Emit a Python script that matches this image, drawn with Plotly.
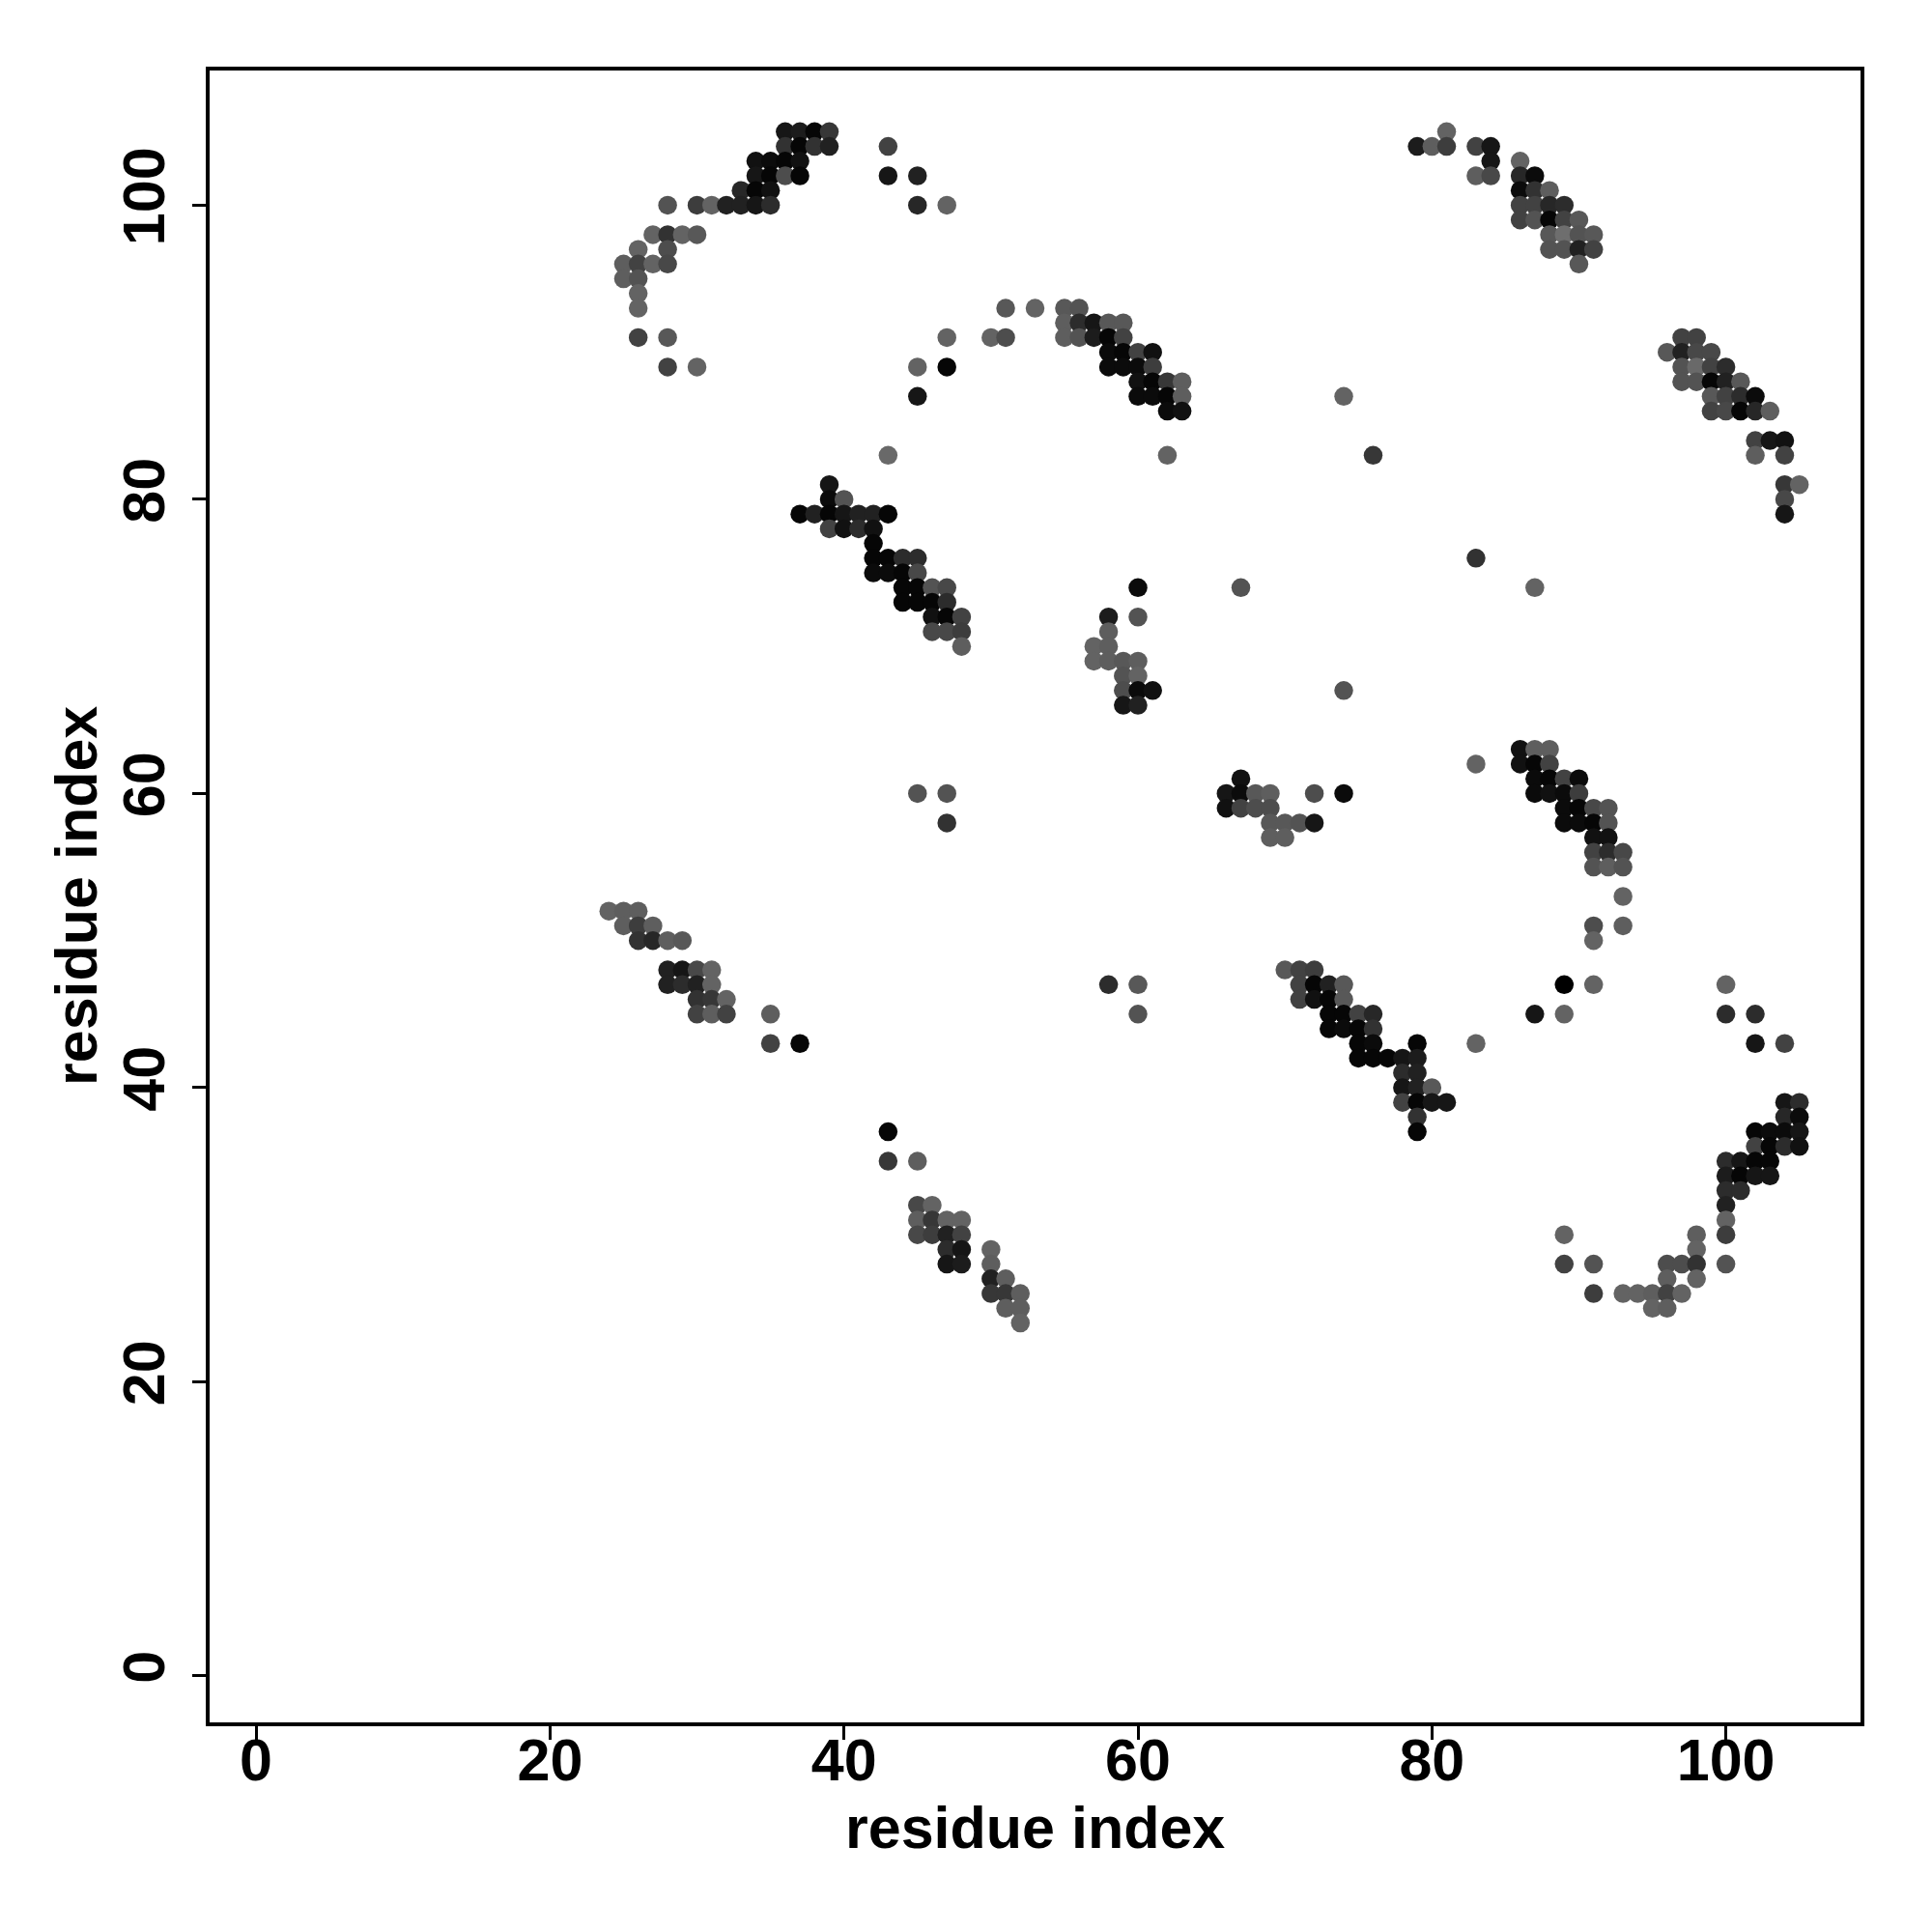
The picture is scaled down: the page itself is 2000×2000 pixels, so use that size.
import plotly.graph_objects as go

# residue i, residue j, shade (0 = black ... 1 = lightest gray)
res_i = [
    36, 37, 38, 39, 36, 37, 38, 39, 43, 34, 35, 36, 37, 34, 35, 36, 37, 43, 45,
    33, 34, 35, 28, 30, 31, 32, 33, 34, 35, 45, 47, 27, 28, 29, 30, 26, 28,
    25, 26, 27, 28, 25, 26, 26, 26, 26, 28, 28, 30, 45, 47, 45, 47, 50, 51,
    51, 53, 55, 56,
    55, 56, 57, 58, 59, 55, 56, 57, 58, 59, 58, 59, 60, 61, 58, 59, 60, 61,
    60, 61, 62, 63, 60, 61, 62, 63, 74, 62, 63,
    81, 79, 80, 81, 83, 84, 84, 86, 83, 84, 86, 87, 86, 87, 88, 86, 87, 88, 89,
    86, 87, 88, 89, 90, 88, 89, 90, 91, 88, 89, 90, 91, 90,
    97, 98, 96, 97, 98, 99, 97, 98, 99, 100, 97, 98, 99, 100, 101,
    99, 100, 101, 102, 99, 100, 101, 102, 103,
    102, 103, 104, 102, 104, 104, 105, 104, 104, 83, 87,
    43, 39, 39, 40, 37, 38, 39, 40, 41, 42, 43, 39, 40, 41, 42, 42,
    42, 43, 44, 45, 42, 43, 44, 45, 44, 45, 46, 47, 44, 45, 46, 47,
    46, 47, 48, 46, 47, 48, 48,
    62, 76, 60, 67, 58, 60, 58, 57, 58, 57, 58, 59, 60, 59, 60, 59, 60, 61, 74,
    59, 60,
    45, 47, 47, 24, 25, 26, 25, 26, 27, 26, 27, 28, 29, 28, 29, 30, 31,
    28, 29, 30, 31, 30, 31, 32, 30, 31, 32, 35,
    35, 37, 43, 43, 45, 45, 46, 45, 46, 47, 48, 45, 46, 47, 48, 47, 48, 47, 48,
    50, 50, 50, 51, 50, 51, 52, 51, 52, 52,
    67, 66, 67, 68, 69, 72, 74, 66, 67, 68, 69, 69, 70, 71, 72, 69, 70,
    70, 71, 72, 58, 60, 71, 72, 73, 74, 71, 72, 73, 74,
    60, 73, 74, 75, 76, 73, 74, 75, 76,
    75, 76, 79, 75, 76, 77, 78, 79, 78, 79, 78, 79, 80, 78, 79, 80, 81, 79, 79,
    83, 102, 104, 104, 105, 104, 105, 102, 103, 104, 105, 102, 103, 104, 105,
    100, 101, 102, 103, 100, 101, 102, 103, 100, 101, 100, 100,
    89, 98, 100, 98, 89, 91, 96, 97, 98, 100, 96, 98,
    91, 93, 94, 95, 96, 97, 95, 96,
    86, 87, 88, 83, 86, 87, 88, 87, 88, 89, 90, 87, 88, 89, 90,
    89, 90, 91, 92, 89, 90, 91, 92, 91, 92, 91, 92, 93, 91, 92, 93,
    93, 91, 93, 91, 89, 91, 100, 87, 89, 100, 102,
]

res_j = [
    105, 105, 105, 105, 104, 104, 104, 104, 104, 103, 103, 103, 103, 102, 102, 102, 102, 102, 102,
    101, 101, 101, 100, 100, 100, 100, 100, 100, 100, 100, 100, 98, 98, 98, 98, 97, 97,
    96, 96, 96, 96, 95, 95, 94, 93, 91, 91, 89, 89, 89, 89, 87, 91, 91, 91,
    93, 93, 93, 93,
    92, 92, 92, 92, 92, 91, 91, 91, 91, 91, 90, 90, 90, 90, 89, 89, 89, 89,
    88, 88, 88, 88, 87, 87, 87, 87, 87, 86, 86,
    105, 104, 104, 104, 104, 104, 103, 103, 102, 102, 102, 102, 101, 101, 101, 100, 100, 100, 100,
    99, 99, 99, 99, 99, 98, 98, 98, 98, 97, 97, 97, 97, 96,
    91, 91, 90, 90, 90, 90, 89, 89, 89, 89, 88, 88, 88, 88, 88,
    87, 87, 87, 87, 86, 86, 86, 86, 86,
    84, 84, 84, 83, 83, 81, 81, 80, 79, 76, 74,
    83, 81, 80, 80, 79, 79, 79, 79, 79, 79, 79, 78, 78, 78, 78, 77,
    76, 76, 76, 76, 75, 75, 75, 75, 74, 74, 74, 74, 73, 73, 73, 73,
    72, 72, 72, 71, 71, 71, 70,
    83, 83, 74, 74, 72, 72, 71, 70, 70, 69, 69, 69, 69, 68, 68, 67, 67, 67, 67,
    66, 66,
    60, 60, 58, 52, 52, 52, 51, 51, 51, 50, 50, 50, 50, 48, 48, 48, 48,
    47, 47, 47, 47, 46, 46, 46, 45, 45, 45, 45,
    43, 43, 37, 35, 35, 32, 32, 31, 31, 31, 31, 30, 30, 30, 30, 29, 29, 28, 28,
    29, 28, 27, 27, 26, 26, 26, 25, 25, 24,
    61, 60, 60, 60, 60, 60, 60, 59, 59, 59, 59, 58, 58, 58, 58, 57, 57,
    48, 48, 48, 47, 47, 47, 47, 47, 47, 46, 46, 46, 46,
    45, 45, 45, 45, 45, 44, 44, 44, 44,
    43, 43, 43, 42, 42, 42, 42, 42, 41, 41, 40, 40, 40, 39, 39, 39, 39, 38, 37,
    43, 43, 43, 39, 39, 38, 38, 37, 37, 37, 37, 36, 36, 36, 36,
    35, 35, 35, 35, 34, 34, 34, 34, 33, 33, 32, 31,
    30, 30, 30, 29, 28, 28, 28, 28, 28, 28, 27, 27,
    26, 26, 26, 26, 26, 26, 25, 25,
    63, 63, 63, 62, 62, 62, 62, 61, 61, 61, 61, 60, 60, 60, 60,
    59, 59, 59, 59, 58, 58, 58, 58, 57, 57, 56, 56, 56, 55, 55, 55,
    53, 51, 51, 50, 47, 47, 47, 45, 45, 45, 45,
]

shade = [
    .2, .25, .05, .5, .45, .05, .45, .3, .6, .15, .1, .05, .15, .2, .05, .7, .05, .2, .3,
    .35, .05, .15, .75, .55, .9, .3, .3, .2, .4, .35, .9, .9, .45, .9, .8, .9, .7,
    .85, .6, .9, .65, .85, .75, .9, .9, .6, .8, .6, .9, .9, .05, .2, .9, .9, .7,
    .8, .9, .8, .75,
    .85, .4, .2, .8, .8, .85, .75, .25, .05, .6, .1, .05, .6, .15, .1, .1, .1, .55,
    .15, .05, .5, .85, .1, .1, .05, .85, .9, .1, .15,
    .9, .25, .85, .55, .6, .2, .2, .9, .85, .65, .35, .1, .1, .45, .85, .6, .6, .35, .4,
    .6, .75, .05, .6, .8, .8, 1.0, .75, .8, .75, .75, .3, .6, .8,
    .6, .6, .8, .3, .65, .65, .75, .95, .6, .4, .75, .75, .05, .3, .8,
    .8, .6, .4, .1, .6, .65, .05, .35, .85,
    .6, .2, .15, .85, .6, .5, .9, .65, .2, .45, .9,
    .95, .2, .1, .75, .05, .3, .05, .2, .3, .3, .05, .6, .15, .4, .15, .05,
    .05, .05, .4, .4, .1, .1, .05, .65, .05, .05, .75, .65, .05, .05, .05, .4,
    .15, .05, .6, .65, .65, .55, .85,
    .9, .5, .1, .75, .25, .75, .85, .9, .85, .9, .85, .8, .85, .75, .9, .7, .1, .15, .75,
    .2, .3,
    .75, .75, .45, .9, .85, .85, .85, .55, .85, .45, .35, .85, .8, .3, .2, .65, .9,
    .3, .4, .3, .9, .45, .5, .9, .6, .85, .6, .85,
    .6, .05, .05, .5, .85, .65, .9, .85, .5, .9, .9, .65, .55, .3, .6, .4, .2, .2, .25,
    .9, .85, .3, .85, .5, .5, .85, .85, .85, .9,
    .15, .2, .1, .8, .85, .7, .1, .15, .6, .7, .7, .8, .8, .75, .2, .85, .85,
    .8, .6, .55, .4, .8, .6, .05, .3, .8, .6, .15, .05, .8,
    .75, .05, .05, .6, .35, .05, .1, .05, .45,
    .05, .1, .05, .05, .05, .05, .2, .25, .4, .3, .2, .3, .8, .6, .05, .2, .2, .45, .05,
    .9, .2, .6, .2, .4, .35, .1, .05, .1, .1, .2, .6, .05, .4, .15,
    .4, .2, .05, .05, .25, .05, .2, .2, .4, .4, .3, .9,
    .9, .85, .55, .9, .6, .75, .7, .7, .45, .75, .85, .9,
    .55, .9, .9, .85, .6, .9, .9, .85,
    .15, .85, .85, .9, .15, .05, .6, .1, .05, .6, .1, .1, .15, .1, .55,
    .1, .05, .65, .75, .1, .1, .05, .75, .15, .15, .6, .4, .65, .75, .85, .75,
    .9, .7, .85, .9, .0, .9, .9, .2, .9, .4, .4,
]

tick_vals = [0, 20, 40, 60, 80, 100]
axis_label = "residue index"

font = dict(family="Liberation Sans", size=61, color="black", weight="bold")

# page body has an 8px default margin; figure sized to fit the 2000px window
W = H = 1984
L, R, T, B = 209, 66, 65, 209
plot_h = H - T - B
plot_w = W - L - R

fig = go.Figure(go.Scatter(
    x=res_i, y=res_j, mode="markers",
    marker=dict(size=19.5, color=shade, cmin=0, cmax=1,
                colorscale=[[0, "#000000"], [1, "#6e6e6e"]],
                line=dict(width=0)),
    showlegend=False, hoverinfo="skip",
))

axis_common = dict(
    range=[-3.16, 109.16], tickvals=tick_vals, ticks="outside", ticklen=14,
    tickwidth=3, tickcolor="black", showline=True, linecolor="black",
    linewidth=4, mirror=True, showgrid=False, zeroline=False, tickfont=font,
)

fig.update_layout(
    width=W, height=H,
    margin=dict(l=L, r=R, t=T, b=B, pad=0),
    paper_bgcolor="white", plot_bgcolor="white",
    xaxis=dict(**axis_common, ticklabelstandoff=-31),
    yaxis=dict(**axis_common, tickangle=-90, ticklabelstandoff=5),
    annotations=[
        dict(text=axis_label, xref="paper", yref="paper", x=0.5,
             y=-(1892 - 1783) / plot_h,
             xanchor="center", yanchor="middle", showarrow=False, font=font),
        dict(text=axis_label, xref="paper", yref="paper",
             x=-(217 - 79) / plot_w, y=0.5,
             xanchor="center", yanchor="middle", showarrow=False, font=font,
             textangle=-90),
    ],
)

fig.write_html("out.html")
